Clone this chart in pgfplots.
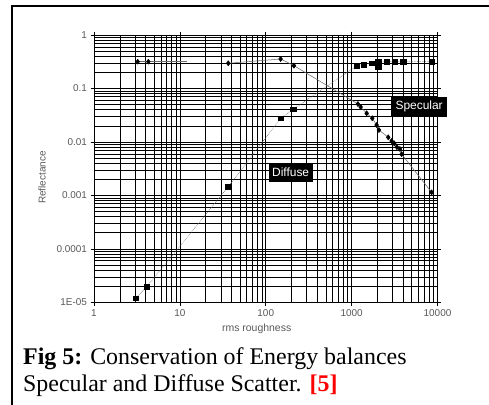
\documentclass[border=0pt]{standalone}
\usepackage{pgfplots}
\pgfplotsset{compat=1.18}
\usepackage{fontspec}
\setmainfont{Liberation Serif}
\newfontfamily\arial{Liberation Sans}
\definecolor{labelgray}{gray}{0.35}
\definecolor{linegray}{gray}{0.42}

\begin{document}
\begin{tikzpicture}
\useasboundingbox (0,0) rectangle (489bp,405bp);
% frame
\draw[line width=2bp] (11.8bp,-5bp) -- (11.8bp,399bp) -- (500bp,399bp);

\begin{axis}[
  at={(94bp,102.7bp)}, anchor=south west,
  scale only axis, width=343.5bp, height=267.3bp,
  xmode=log, ymode=log,
  xmin=1, xmax=10000, ymin=1e-5, ymax=1,
  xtick={1,10,100,1000,10000},
  xticklabels={1,10,100,1000,10000},
  ytick={1e-5,1e-4,1e-3,1e-2,1e-1,1},
  yticklabels={1E-05,0.0001,0.001,0.01,0.1,1},
  ticklabel style={font=\arial\fontsize{10}{12}\selectfont, text=labelgray},
  tick align=outside, major tick length=3.5bp, minor tick length=0pt,
  tick style={black, line width=0.5bp},
  grid=both,
  major grid style={black, line width=0.6bp},
  minor grid style={black, line width=0.5bp},
  axis line style={black, line width=0.6bp},
  clip=false,
]
% specular reflectance
\addplot[linegray, line width=0.55bp, mark=diamond*, mark size=2.4bp,
  mark options={black, solid}, mark indices={1,2}] coordinates {
  (3.23,0.317) (4.29,0.317) (12.2,0.317)
};
\addplot[linegray, line width=0.55bp, mark=diamond*, mark size=2.5bp,
  mark options={black, solid}] coordinates {
  (36.6,0.296) (149,0.356) (213,0.267)
  (1184,0.0512) (1274,0.045) (1496,0.0343) (1739,0.0277)
  (1955,0.0207) (2080,0.0167) (2669,0.0122) (2923,0.0104)
  (3135,0.0094) (3367,0.0080) (3648,0.0074) (3820,0.0059)
  (8540,0.00114)
};
% diffuse reflectance
\addplot[linegray, line width=0.6bp, densely dotted, mark=square*, mark size=2.3bp,
  mark options={black, solid, xscale=1.2}] coordinates {
  (3.06,1.19e-5) (4.11,1.96e-5) (36.6,0.00145)
  (149,0.0277) (209,0.0408)
  (1153,0.267) (1390,0.28) (1710,0.296) (2040,0.247) (2040,0.313)
  (2556,0.317) (3190,0.317) (3990,0.317) (8540,0.317)
};
\node[fill=black, text=white, font=\arial\fontsize{12}{14}\selectfont,
  inner xsep=4.5bp, minimum height=20bp] at (axis cs:6110,0.0456) {Specular};
\node[fill=black, text=white, font=\arial\fontsize{12}{14}\selectfont,
  inner xsep=3.5bp, minimum height=19bp] at (axis cs:195,0.00268) {Diffuse};
\end{axis}

\node[rotate=90, font=\arial\fontsize{10}{12}\selectfont, text=labelgray]
  at (42bp,227.5bp) {Reflectance};
\node[font=\arial\fontsize{10.5}{12}\selectfont, text=labelgray]
  at (256.7bp,76bp) {rms roughness};

\node[anchor=base west, inner sep=0pt, font=\fontsize{24}{27}\selectfont]
  at (23bp,40.7bp) {\textbf{Fig 5:} Conservation of Energy balances};
\node[anchor=base west, inner sep=0pt, font=\fontsize{24}{27}\selectfont]
  at (23bp,14bp) {Specular and Diffuse Scatter. \textcolor{red}{\textbf{[5]}}};
\end{tikzpicture}
\end{document}
